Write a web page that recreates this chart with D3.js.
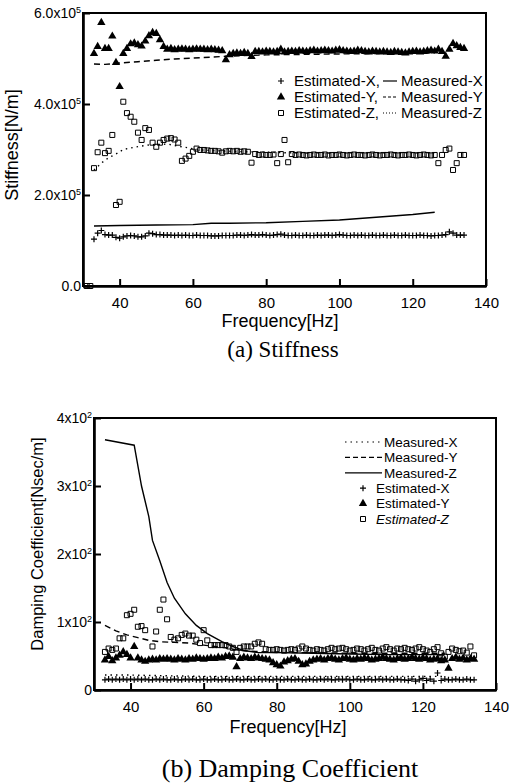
<!DOCTYPE html>
<meta charset="utf-8">
<head>
<style>
  body { margin: 0; background: #fff; }
  text { font-family: "Liberation Sans", Arial, sans-serif; fill: #000; }
  .cap { font-family: "Liberation Serif", "Times New Roman", serif; }
</style>
<script src="https://d3js.org/d3.v7.min.js"></script>
</head>
<body>
<svg id="fig" width="510" height="783"></svg>
<script>

// ---- shared frequency grid of the estimated points [Hz]
var freqS = [33,34,35,36,37,38,39,40,41,42,
  43,44,45,46,47,48,49,50,51,52,
  53,54,55,56,57,58,59,60,61,62,
  63,64,65,66,67,68,69,70,71,72,
  73,74,75,76,77,78,79,80,81,82,
  83,84,85,86,87,88,89,90,91,92,
  93,94,95,96,97,98,99,100,101,102,
  103,104,105,106,107,108,109,110,111,112,
  113,114,115,116,117,118,119,120,121,122,
  123,124,125,126,127,128,129,130,131,132,
  133,134];
var freqZa = [31, 32].concat(freqS);

// ---- (a) stiffness, x10^5 N/m
var stEstX = [1.03,1.16,1.22,1.13,1.12,1.12,1.07,1.05,1.08,1.10,
  1.11,1.10,1.08,1.08,1.10,1.16,1.15,1.13,1.13,1.12,
  1.12,1.12,1.11,1.12,1.11,1.12,1.11,1.11,1.12,1.11,
  1.11,1.11,1.10,1.10,1.10,1.11,1.11,1.11,1.11,1.12,
  1.12,1.11,1.12,1.13,1.12,1.12,1.13,1.12,1.11,1.12,
  1.13,1.14,1.12,1.11,1.11,1.12,1.11,1.11,1.12,1.11,
  1.11,1.12,1.11,1.12,1.12,1.11,1.12,1.13,1.12,1.11,
  1.11,1.12,1.11,1.12,1.11,1.11,1.12,1.11,1.11,1.12,
  1.11,1.11,1.12,1.11,1.11,1.12,1.11,1.11,1.11,1.12,
  1.11,1.11,1.10,1.11,1.11,1.12,1.13,1.19,1.16,1.12,
  1.12,1.12];
var stEstY = [5.11,5.26,5.79,5.22,5.22,5.49,4.91,4.38,5.11,5.22,
  5.32,5.34,5.30,5.27,5.38,5.50,5.57,5.55,5.41,5.26,
  5.20,5.22,5.19,5.20,5.21,5.20,5.19,5.20,5.21,5.20,
  5.20,5.19,5.20,5.19,5.18,5.17,4.97,5.08,5.11,5.12,
  5.11,5.13,5.11,5.04,5.15,5.15,5.14,5.16,5.15,5.14,
  5.15,5.20,5.14,5.15,5.16,5.15,5.17,5.16,5.15,5.17,
  5.18,5.16,5.17,5.18,5.17,5.16,5.18,5.19,5.17,5.16,
  5.15,5.16,5.18,5.17,5.15,5.14,5.16,5.15,5.14,5.15,
  5.14,5.13,5.15,5.14,5.13,5.12,5.14,5.15,5.16,5.14,
  5.15,5.17,5.18,5.16,5.20,5.15,5.05,5.20,5.33,5.28,
  5.24,5.22];
var stEstZ = [0, 0,
  2.59,2.94,3.15,2.92,2.97,3.32,1.78,1.85,4.05,3.80,
  3.72,3.61,3.37,3.21,3.47,3.43,3.15,3.06,3.15,3.21,
  3.24,3.25,3.22,3.15,2.75,2.80,2.86,2.95,3.02,2.99,
  2.99,2.98,2.97,2.97,2.96,2.93,2.96,2.97,2.96,2.97,
  2.95,2.96,2.95,2.71,2.90,2.88,2.89,2.88,2.88,2.89,
  2.70,2.90,3.21,2.72,2.90,2.88,2.89,2.88,2.87,2.88,
  2.89,2.88,2.88,2.89,2.87,2.88,2.88,2.89,2.88,2.87,
  2.88,2.89,2.88,2.88,2.87,2.88,2.89,2.88,2.87,2.88,
  2.88,2.89,2.88,2.87,2.88,2.88,2.89,2.88,2.87,2.88,
  2.89,2.88,2.87,2.88,2.70,2.88,2.99,3.02,2.55,2.70,
  2.88,2.88];
var stMeasXf = [33,40,50,60,65,70,80,90,100,110,120,126];
var stMeasX  = [1.32,1.33,1.34,1.35,1.38,1.38,1.39,1.42,1.45,1.51,1.57,1.62];
var stMeasYf = [33,36,40,45,50,55,60,65,69,80,100,126];
var stMeasY  = [4.88,4.87,4.90,4.93,4.96,4.99,5.01,5.03,5.05,5.08,5.10,5.12];
var stMeasZf = [33,35,37,39,41,44,48,53,57,62,70,80,90,100,110,126];
var stMeasZ  = [2.55,2.70,2.82,2.90,3.00,3.05,3.10,3.12,3.06,2.99,2.96,2.94,2.92,2.92,2.92,2.93];

// ---- (b) damping coefficient, N sec/m
var dmEstX = [15,16,15,16,15,16,15,16,15,16,
  15,16,15,15,16,15,16,15,15,16,
  15,15,16,15,16,15,15,16,15,15,
  16,15,15,16,15,15,16,15,15,16,
  15,15,16,15,16,15,15,16,15,15,
  16,15,15,16,15,15,16,15,15,16,
  15,16,15,15,16,15,16,15,15,16,
  15,15,16,15,15,16,15,16,15,15,
  16,15,15,14,16,13,15,17,14,16,
  13,25,14,16,15,15,16,15,15,16,
  15,15];
var dmEstY = [44,49,43,47,51,56,52,47,64,47,
  44,42,44,45,44,46,45,46,45,44,
  46,45,44,46,45,47,46,45,46,47,
  46,48,47,49,50,48,34,46,48,47,
  46,48,47,46,45,44,40,37,35,41,
  43,45,46,42,37,38,42,44,45,46,
  44,46,47,45,44,46,47,45,44,46,
  45,47,46,44,45,46,48,46,45,44,
  46,47,45,46,48,46,45,47,46,44,
  45,46,43,44,32,46,48,45,47,44,
  46,45];
var dmEstZ = [56,61,59,61,76,76,110,112,118,93,
  94,88,null,64,86,118,133,104,78,74,
  76,81,83,80,80,74,69,88,73,66,
  66,66,66,66,64,62,56,62,64,64,
  64,68,70,68,60,59,59,60,59,58,
  59,60,59,61,64,61,59,58,60,59,
  58,60,62,60,61,62,60,58,59,61,
  60,58,60,62,59,58,61,63,60,58,
  61,60,62,60,59,61,63,60,58,56,
  60,63,54,49,56,61,59,57,58,55,
  64,51];
var dmMeasXf = [33,40,49,60,80,100,126];
var dmMeasX  = [22,22,21,20,20,20,20];
var dmMeasYf = [33,36,39,42,45,48,52,56,60,63,66,70,80,90,100,110,126];
var dmMeasY  = [95,87,81,77,73,71,70,69,66,64,62,58,55,55,54,54,54];
var dmMeasZf = [33,41,43,45,46,48,50,52,55,58,61,65,68,71,75,80,90,100,110,120,126];
var dmMeasZ  = [368,360,300,255,220,190,158,135,112,95,83,71,64,58,55,55,54,53,52,52,52];

// ---- tick labels
var xTicks = [40, 60, 80, 100, 120, 140];
var yTicksA = [0, 2, 4, 6];
var yLabA = ["0.0", "2.0x10", "4.0x10", "6.0x10"];
var yExpA = ["", "5", "5", "5"];
var yTicksB = [0, 100, 200, 300, 400];
var yLabB = ["0", "1x10", "2x10", "3x10", "4x10"];
var yExpB = ["", "2", "2", "2", "2"];

var svg = d3.select("#fig");
svg.append("rect").attr("width", 510).attr("height", 783).attr("fill", "#fff");

var DOT = "1.5,4", DASH = "6,4";
var shapes = {
  plus: "M-3,0H3M0,-3V3",
  tri: d3.symbol(d3.symbolTriangle, 30)(),
  sq: "M-2.5,-2.5h5v5h-5z"
};

function marker(g, kind, tx, ty) {
  return g.append("path")
    .attr("transform", "translate(" + tx + "," + ty + ")")
    .attr("d", shapes[kind])
    .attr("fill", kind == "tri" ? "#000" : "none")
    .attr("stroke", kind == "tri" ? "none" : "#000")
    .attr("stroke-width", kind == "plus" ? 1.2 : 1);
}

function points(f, v, x, y, kind) {
  var g = svg.append("g");
  f.forEach(function(d, i) {
    if (v[i] == null) return;
    marker(g, kind, x(d), y(v[i]));
  });
}

function curve(f, v, x, y, dash) {
  svg.append("path")
    .datum(f.map(function(d, i) { return [d, v[i]]; }))
    .attr("fill", "none").attr("stroke", "#000").attr("stroke-width", 1.4)
    .attr("stroke-dasharray", dash)
    .attr("d", d3.line().x(function(d) { return x(d[0]); }).y(function(d) { return y(d[1]); }));
}

function axes(x, y, yTicks, yLab, yExp) {
  svg.append("rect")
    .attr("x", x.range()[0]).attr("y", y.range()[1])
    .attr("width", x.range()[1] - x.range()[0])
    .attr("height", y.range()[0] - y.range()[1])
    .attr("fill", "none").attr("stroke", "#000").attr("stroke-width", 2);

  var gx = svg.append("g")
    .attr("transform", "translate(0," + y.range()[0] + ")")
    .call(d3.axisBottom(x).tickValues(xTicks).tickSize(-7).tickSizeOuter(0).tickPadding(11));
  var gy = svg.append("g")
    .attr("transform", "translate(" + x.range()[0] + ",0)")
    .call(d3.axisLeft(y).tickValues(yTicks).tickSize(-7).tickSizeOuter(0).tickPadding(2)
      .tickFormat(function(d, i) { return yLab[i]; }));

  [gx, gy].forEach(function(g) {
    g.attr("font-family", null).attr("font-size", null);
    g.select(".domain").attr("stroke-width", 2.6);
    g.selectAll(".tick line").attr("stroke-width", 2);
  });
  gx.selectAll("text").style("font-size", "15px");
  gy.selectAll("text").style("font-size", "14px")
    .each(function(d, i) {
      if (yExp[i]) d3.select(this).append("tspan").attr("dy", "-0.5em")
        .style("font-size", "9px").text(yExp[i]);
    });
}

// ================= (a) Stiffness =================
var xA = d3.scaleLinear().domain([30, 140]).range([83, 486]);
var yA = d3.scaleLinear().domain([0, 6]).range([286, 13]);

curve(stMeasXf, stMeasX, xA, yA, null);
curve(stMeasYf, stMeasY, xA, yA, DASH);
curve(stMeasZf, stMeasZ, xA, yA, DOT);
points(freqS, stEstX, xA, yA, "plus");
points(freqS, stEstY, xA, yA, "tri");
points(freqZa, stEstZ, xA, yA, "sq");
axes(xA, yA, yTicksA, yLabA, yExpA);

svg.append("text").attr("x", 280).attr("y", 327).attr("text-anchor", "middle")
  .style("font-size", "18px").text("Frequency[Hz]");
svg.append("text").attr("transform", "translate(18,145) rotate(-90)")
  .attr("text-anchor", "middle").style("font-size", "18px").text("Stiffness[N/m]");
svg.append("text").attr("class", "cap").attr("x", 283).attr("y", 357)
  .attr("text-anchor", "middle").style("font-size", "23px").text("(a) Stiffness");

// legend (a)
var legA = ["X", "Y", "Z"], legAKind = ["plus", "tri", "sq"], legADash = [null, "3,2", "1,2"];
var lgA = svg.append("g");
legA.forEach(function(s, i) {
  var cy = 81 + i * 16;
  marker(lgA, legAKind[i], 281, cy);
  lgA.append("text").attr("x", 294).attr("y", cy).attr("dy", "0.35em")
    .style("font-size", "15px").text("Estimated-" + s + ",");
  lgA.append("line").attr("x1", 383).attr("x2", 397).attr("y1", cy).attr("y2", cy)
    .attr("stroke", "#000").attr("stroke-width", 1.2).attr("stroke-dasharray", legADash[i]);
  lgA.append("text").attr("x", 401).attr("y", cy).attr("dy", "0.35em")
    .style("font-size", "15px").text("Measured-" + s);
});

// ================= (b) Damping coefficient =================
var xB = d3.scaleLinear().domain([30, 140]).range([94, 496]);
var yB = d3.scaleLinear().domain([0, 400]).range([690, 418]);

curve(dmMeasXf, dmMeasX, xB, yB, DOT);
curve(dmMeasYf, dmMeasY, xB, yB, DASH);
curve(dmMeasZf, dmMeasZ, xB, yB, null);
points(freqS, dmEstX, xB, yB, "plus");
points(freqS, dmEstY, xB, yB, "tri");
points(freqS, dmEstZ, xB, yB, "sq");
axes(xB, yB, yTicksB, yLabB, yExpB);

svg.append("text").attr("x", 288).attr("y", 733).attr("text-anchor", "middle")
  .style("font-size", "18px").text("Frequency[Hz]");
svg.append("text").attr("transform", "translate(43,544) rotate(-90)")
  .attr("text-anchor", "middle").style("font-size", "16.5px").text("Damping Coefficient[Nsec/m]");
svg.append("text").attr("class", "cap").attr("x", 290).attr("y", 777)
  .attr("text-anchor", "middle").style("font-size", "26px").text("(b) Damping Coefficient");

// legend (b)
var legB = ["Measured-X", "Measured-Y", "Measured-Z", "Estimated-X", "Estimated-Y", "Estimated-Z"];
var legBDash = [DOT, "5,3", null];
var legBKind = ["plus", "tri", "sq"];
var lgB = svg.append("g");
legB.forEach(function(s, i) {
  var cy = 442 + i * 15.4;
  if (i < 3) {
    lgB.append("line").attr("x1", 345).attr("x2", 382).attr("y1", cy).attr("y2", cy)
      .attr("stroke", "#000").attr("stroke-width", 1.2).attr("stroke-dasharray", legBDash[i]);
  } else {
    marker(lgB, legBKind[i - 3], 363, cy);
  }
  lgB.append("text").attr("x", i < 3 ? 384 : 376).attr("y", cy).attr("dy", "0.35em")
    .style("font-size", "13.5px").style("font-style", i == 5 ? "italic" : null).text(s);
});

</script>
</body>
